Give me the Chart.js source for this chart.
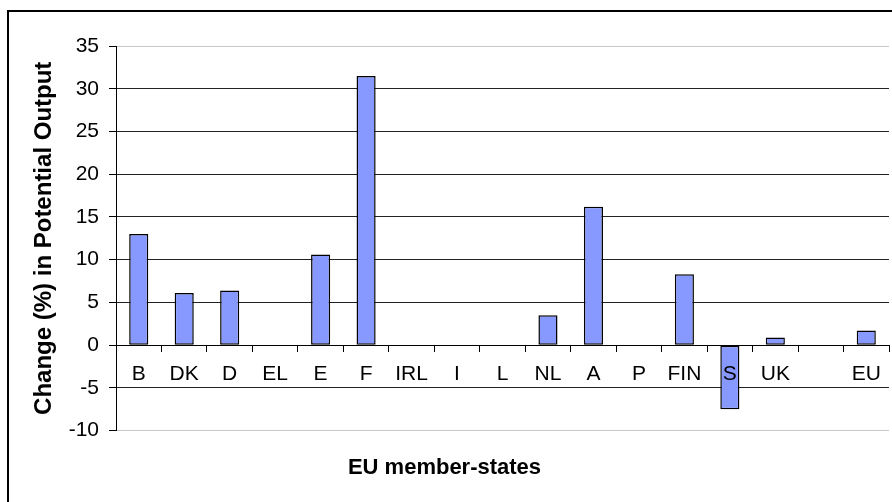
<!DOCTYPE html>
<html>
<head>
<meta charset="utf-8">
<script src="https://cdn.jsdelivr.net/npm/chart.js"></script>
<style>
  body { margin: 0; background: #fff; }
</style>
</head>
<body>
<canvas id="potentialOutputChart" width="892" height="502"></canvas>
<script>
// values
const memberStates = ["B", "DK", "D", "EL", "E", "F", "IRL", "I", "L", "NL", "A", "P", "FIN", "S", "UK", "", "EU"];
const changePct = [13.0, 6.1, 6.4, 0, 10.6, 31.5, 0, 0, 0, 3.5, 16.2, 0, 8.3, -7.5, 0.9, null, 1.7];
const yTickValues = [-10, -5, 0, 5, 10, 15, 20, 25, 30, 35];

const fontFamily = "'Liberation Sans', Arial, sans-serif";

// white background + the black frame round the whole picture
const framePlugin = {
  id: "frame",
  beforeDraw(chart) {
    const ctx = chart.ctx;
    ctx.save();
    ctx.fillStyle = "#fff";
    ctx.fillRect(0, 0, chart.width, chart.height);
    ctx.strokeStyle = "#000";
    ctx.lineWidth = 2;
    ctx.strokeRect(8, 11, chart.width + 20, chart.height + 20);
    ctx.restore();
  },
};

const ctx = document.getElementById("potentialOutputChart").getContext("2d");

new Chart(ctx, {
  type: "bar",
  data: {
    labels: memberStates,
    datasets: [
      {
        label: "Change (%) in Potential Output",
        data: changePct,
        backgroundColor: "#8799ff",
        borderColor: "#000",
        borderWidth: 1.5,
        borderSkipped: false,
        categoryPercentage: 1,
        barPercentage: 0.42,
      },
    ],
  },
  options: {
    responsive: false,
    animation: false,
    devicePixelRatio: 1,
    layout: { padding: { left: 0, top: 46, right: 3, bottom: 4 } },
    plugins: {
      legend: { display: false },
      tooltip: { enabled: false },
      title: {
        display: true,
        position: "bottom",
        text: "EU member-states",
        color: "#000",
        font: { family: fontFamily, size: 22, weight: "bold" },
        padding: { top: 24, bottom: 17 },
      },
    },
    scales: {
      x: {
        position: { y: 0 },
        offset: true,
        grid: {
          drawOnChartArea: false,
          drawTicks: true,
          tickLength: 6,
          color: "#000",
          offset: true,
        },
        border: { display: true, color: "#000", width: 1 },
        ticks: {
          z: 1, // labels sit on top of the bars (see "S")
          color: "#000",
          font: { family: fontFamily, size: 21 },
          padding: 10,
          maxRotation: 0,
          autoSkip: false,
        },
      },
      y: {
        min: -10,
        max: 35,
        afterFit: (scale) => {
          scale.width = 116;
        },
        afterBuildTicks: (scale) => {
          scale.ticks = yTickValues.map((v) => ({ value: v }));
        },
        grid: {
          color: (c) => (c.tick && (c.tick.value === 35 || c.tick.value === -10) ? "#c8c8c8" : "#222"),
          tickColor: "#000",
          tickLength: 7,
        },
        border: { color: "#000", width: 1 },
        ticks: {
          color: "#000",
          font: { family: fontFamily, size: 21 },
          padding: 10,
        },
        title: {
          display: true,
          text: "Change (%) in Potential Output",
          color: "#000",
          font: { family: fontFamily, size: 24, weight: "bold" },
          padding: { top: 30, bottom: 0 },
        },
      },
    },
  },
  plugins: [framePlugin],
});
</script>
</body>
</html>
